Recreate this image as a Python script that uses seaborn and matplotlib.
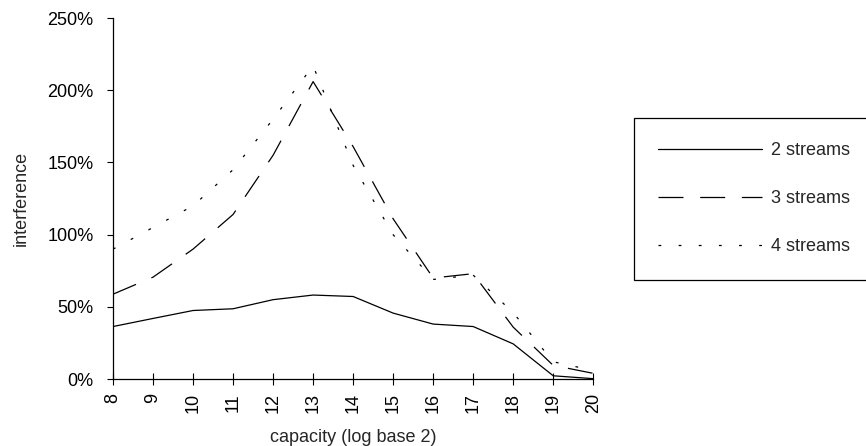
import seaborn as sns
import matplotlib.pyplot as plt
import matplotlib.ticker as mtick
import pandas as pd

# data (interference in %)
capacity = [8, 9, 10, 11, 12, 13, 14, 15, 16, 17, 18, 19, 20]
two_streams = [36.4, 42, 47.5, 48.7, 55, 58.2, 57.2, 45.7, 38.1, 36.4, 24.4, 2.3, 0.3]
three_streams = [58.8, 70.6, 90, 114, 155, 206, 161, 111, 70, 73, 36, 9.5, 4]
four_streams = [90, 105, 120, 145, 180, 217, 148, 100, 69, 72, 46, 12, 6]
series_names = ["2 streams", "3 streams", "4 streams"]

df = pd.DataFrame({
    "capacity": capacity * 3,
    "interference": two_streams + three_streams + four_streams,
    "series": [s for s in series_names for _ in capacity],
})

sns.set_style("ticks")
plt.rcParams["font.family"] = ["Liberation Sans", "DejaVu Sans"]
plt.rcParams["lines.scale_dashes"] = False
fs = 13

fig = plt.figure(figsize=(8.66, 4.46), dpi=100)
ax = fig.add_axes([0.1305, 0.150, 0.5545, 0.8095])

dash_styles = {"2 streams": "", "3 streams": (18, 12), "4 streams": (2, 12.5)}
sns.lineplot(data=df, x="capacity", y="interference", hue="series", style="series",
             palette=["black"] * 3, dashes=dash_styles, linewidth=0.9, ax=ax)

ax.set_xlim(8, 20)
ax.set_ylim(0, 250)
ax.set_xticks(capacity)
ax.set_yticks([0, 50, 100, 150, 200, 250])
ax.yaxis.set_major_formatter(mtick.PercentFormatter(decimals=0))
ax.tick_params(axis="x", direction="inout", length=8.5, width=0.8, pad=6,
               labelrotation=90, labelsize=fs, colors="black")
ax.tick_params(axis="y", direction="out", length=4, width=0.8, pad=10,
               labelsize=fs, colors="black")
for s in ["top", "right"]:
    ax.spines[s].set_visible(False)
for s in ["left", "bottom"]:
    ax.spines[s].set_color("black")
    ax.spines[s].set_linewidth(0.9)

ax.set_xlabel("capacity (log base 2)", fontsize=fs, labelpad=11)
ax.set_ylabel("interference", fontsize=fs, labelpad=13)

ax.legend_.remove()
handles, labels = ax.get_legend_handles_labels()
leg = fig.legend(handles, labels, loc="upper left",
                 bbox_to_anchor=(634 / 866, 1 - 118 / 446), bbox_transform=fig.transFigure,
                 borderaxespad=0, fontsize=fs, handlelength=5.75, handletextpad=0.5,
                 labelspacing=1.72, borderpad=1.34, fancybox=False, framealpha=1,
                 edgecolor="black")
leg.get_frame().set_linewidth(0.9)

fig.savefig("out.png", dpi=100)
